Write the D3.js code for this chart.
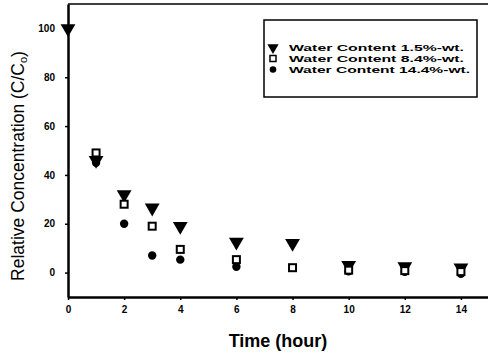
<!DOCTYPE html>
<html>
<head>
<meta charset="utf-8">
<script src="https://cdn.jsdelivr.net/npm/d3@7"></script>
<style>
  body { margin: 0; background: #fff; }
  svg { display: block; font-family: Arial, "Liberation Sans", sans-serif; }
</style>
</head>
<body>
<div id="chart"></div>
<script>
// data
const timeHours = [0, 1, 2, 3, 4, 6, 8, 10, 12, 14];
const wc15 = [100, 46, 32, 26.5, 19, 12.5, 12, 3, 2.5, 2];
const wc84 = [null, 49, 28, 19, 9.5, 5.3, 2, 1, 0.8, 0.4];
const wc144 = [null, 45, 20, 7, 5.3, 2.4, null, 0.5, 0.3, -0.5];
const xTicks = [0, 2, 4, 6, 8, 10, 12, 14];
const yTicks = [0, 20, 40, 60, 80, 100];
const legendLabels = ["Water Content 1.5%-wt.", "Water Content 8.4%-wt.", "Water Content 14.4%-wt."];

const W = 488, H = 355;
const svg = d3.select("#chart").append("svg")
  .attr("width", W).attr("height", H);

//------------------ SCALES ------------------//
const x = d3.scaleLinear().domain([0, 15]).range([68, 489]);
const y = d3.scaleLinear().domain([-10, 110]).range([297, 4]);

// top frame line
svg.append("line")
  .attr("x1", x(0)).attr("x2", W)
  .attr("y1", y(110)).attr("y2", y(110))
  .attr("stroke", "#000").attr("stroke-width", 1.5);

// x axis
const xAxis = svg.append("g")
  .attr("transform", "translate(0," + y(-10) + ")")
  .call(d3.axisBottom(x).tickValues(xTicks).tickSize(3).tickPadding(6).tickSizeOuter(0));
xAxis.select(".domain").attr("stroke-width", 2.5);
xAxis.selectAll(".tick line").attr("stroke-width", 1.5);
xAxis.selectAll("text")
  .style("font-size", "10px").style("font-weight", "bold").style("font-family", "Arial, 'Liberation Sans'");

// y axis
const yAxis = svg.append("g")
  .attr("transform", "translate(" + x(0) + ",0)")
  .call(d3.axisLeft(y).tickValues(yTicks).tickSize(3).tickPadding(10).tickSizeOuter(0));
yAxis.select(".domain").attr("stroke-width", 2.5);
yAxis.selectAll(".tick line").attr("stroke-width", 1.5);
yAxis.selectAll("text")
  .style("font-size", "10px").style("font-weight", "bold").style("font-family", "Arial, 'Liberation Sans'");

// axis titles
svg.append("text")
  .attr("x", 278).attr("y", 347)
  .attr("text-anchor", "middle")
  .style("font-size", "18px").style("font-weight", "bold")
  .text("Time (hour)");

const yTitle = svg.append("text")
  .attr("transform", "translate(24,166) rotate(-90)")
  .attr("text-anchor", "middle")
  .style("font-size", "17.5px");
yTitle.append("tspan").text("Relative Concentration (C/C");
yTitle.append("tspan").attr("dy", 3).style("font-size", "11px").text("o");
yTitle.append("tspan").attr("dy", -3).text(")");

//------------------ MARKERS ------------------//
const tri = d3.symbol().type(d3.symbolTriangle).size(95);
const pts = (vals) => timeHours.map((t, i) => ({ t: t, v: vals[i] })).filter(d => d.v !== null);

svg.append("g").selectAll("circle")
  .data(pts(wc144)).enter().append("circle")
  .attr("cx", d => x(d.t)).attr("cy", d => y(d.v))
  .attr("r", 4.2).attr("fill", "#000");

svg.append("g").selectAll("path")
  .data(pts(wc15)).enter().append("path")
  .attr("d", tri)
  .attr("transform", d => "translate(" + x(d.t) + "," + y(d.v) + ") rotate(180)")
  .attr("fill", "#000");

svg.append("g").selectAll("rect")
  .data(pts(wc84)).enter().append("rect")
  .attr("x", d => x(d.t) - 3.5).attr("y", d => y(d.v) - 3.5)
  .attr("width", 7).attr("height", 7)
  .attr("fill", "#fff").attr("stroke", "#000").attr("stroke-width", 2);

//------------------ LEGEND ------------------//
const legend = svg.append("g");
legend.append("rect")
  .attr("x", 264).attr("y", 20).attr("width", 213).attr("height", 77)
  .attr("fill", "#fff").attr("stroke", "#000").attr("stroke-width", 1.5);

const rowY = [47.5, 58.5, 69.5];
const rowW = [175, 175, 181];
legend.append("path")
  .attr("d", d3.symbol().type(d3.symbolTriangle).size(55))
  .attr("transform", "translate(273," + rowY[0] + ") rotate(180)");
legend.append("rect")
  .attr("x", 270).attr("y", rowY[1] - 3).attr("width", 6).attr("height", 6)
  .attr("fill", "#fff").attr("stroke", "#000").attr("stroke-width", 1.5);
legend.append("circle")
  .attr("cx", 273).attr("cy", rowY[2]).attr("r", 3.3);

legend.selectAll(".lbl")
  .data(legendLabels).enter().append("text")
  .attr("class", "lbl")
  .attr("x", 289).attr("y", (d, i) => rowY[i] + 3.5)
  .attr("textLength", (d, i) => rowW[i])
  .attr("lengthAdjust", "spacingAndGlyphs")
  .style("font-size", "9.5px").style("font-weight", "bold")
  .text(d => d);
</script>
</body>
</html>
